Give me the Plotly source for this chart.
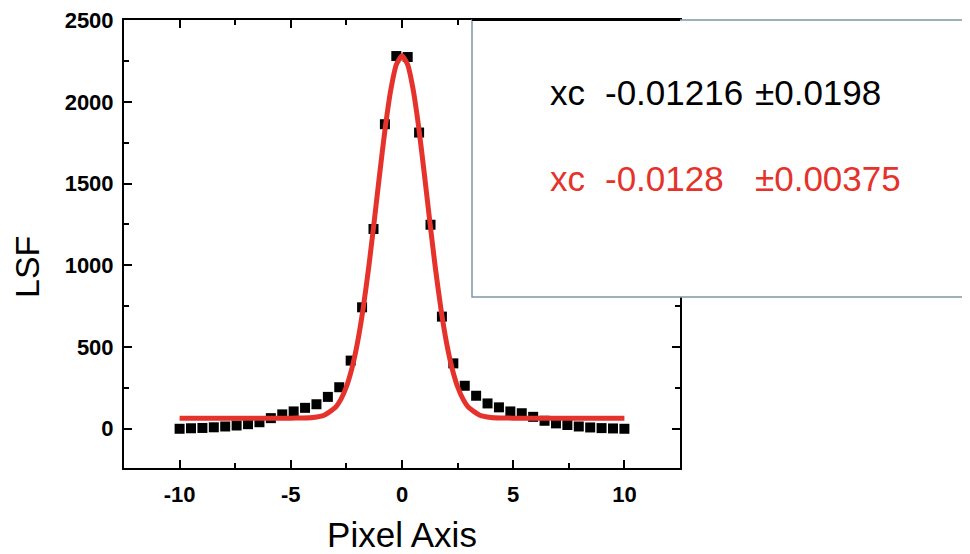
import plotly.graph_objects as go

# Measured LSF data (black squares)
pixel_x = [-10.0, -9.487, -8.974, -8.462, -7.949, -7.436, -6.923, -6.410, -5.897, -5.385,
           -4.872, -4.359, -3.846, -3.333, -2.821, -2.308, -1.795, -1.282, -0.769, -0.256,
           0.256, 0.769, 1.282, 1.795, 2.308, 2.821, 3.333, 3.846, 4.359, 4.872,
           5.385, 5.897, 6.410, 6.923, 7.436, 7.949, 8.462, 8.974, 9.487, 10.0]
lsf_values = [0, 3, 5, 9, 14, 20, 28, 40, 65, 88,
              106, 128, 150, 195, 254, 417, 743, 1222, 1863, 2280,
              2274, 1812, 1248, 686, 400, 263, 202, 155, 131, 106,
              95, 73, 49, 33, 23, 14, 8, 4, 2, 0]

# Fitted curve (red)
fit_x = [-10, -6, -5, -4.5, -4, -3.5, -3, -2.75, -2.5, -2.25, -2, -1.75, -1.5, -1.25, -1,
         -0.75, -0.5, -0.25, 0, 0.25, 0.5, 0.75, 1, 1.25, 1.5, 1.75, 2, 2.25, 2.5, 2.75,
         3, 3.5, 4, 4.5, 5, 6, 10]
fit_y = [65, 65, 65, 66, 69, 83, 130, 180, 257, 371, 528, 734, 984, 1268, 1564,
         1845, 2076, 2229, 2282, 2229, 2076, 1845, 1564, 1268, 984, 734, 528, 371, 257, 180,
         130, 83, 69, 66, 65, 65, 65]

x_ticks = [-10, -5, 0, 5, 10]
x_ticktext = ["-10", "-5", "0", "5", "10"]
y_ticks = [0, 500, 1000, 1500, 2000, 2500]
y_ticktext = ["0", "500", "1000", "1500", "2000", "2500"]

x_title = "Pixel Axis"
y_title = "LSF"

row1 = ["xc", "-0.01216", "±0.0198"]
row2 = ["xc", "-0.0128", "±0.00375"]

FONT = "Liberation Sans, Arial, sans-serif"
RED = "#e5322a"

fig = go.Figure()
fig.add_trace(go.Scatter(x=pixel_x, y=lsf_values, mode="markers",
                         marker=dict(symbol="square", size=10, color="black"),
                         showlegend=False))
fig.add_trace(go.Scatter(x=fit_x, y=fit_y, mode="lines",
                         line=dict(color=RED, width=5, shape="spline", smoothing=0.6),
                         showlegend=False))

# page body has an 8px offset; plan in window pixels
OFF = 8
PL, PR, PT, PB = 124, 680, 20, 468   # plot area in window pixels
W, H = 970 - OFF, 554 - OFF
L, T = PL - OFF, PT - OFF
R, B = 970 - PR, 554 - PB
pw, ph = PR - PL, PB - PT

def px(x):
    return (x - PL) / pw

def py(y):
    return (PB - y) / ph

axis_common = dict(showline=True, linecolor="black", linewidth=2, mirror="ticks",
                   ticks="inside", ticklen=8, tickwidth=2, tickcolor="black",
                   showgrid=False, zeroline=False, automargin=False,
                   tickfont=dict(family=FONT, size=22, color="black", weight="bold"))

fig.update_layout(
    width=W, height=H,
    margin=dict(l=L, r=R, t=T, b=B, autoexpand=False),
    paper_bgcolor="white", plot_bgcolor="white",
    xaxis=dict(range=[-12.5, 12.5], tickvals=x_ticks, ticktext=x_ticktext,
               minor=dict(dtick=2.5, ticks="inside", ticklen=5, tickwidth=2, tickcolor="black"),
               title=dict(text=x_title, font=dict(family=FONT, size=35, color="black"),
                          standoff=19),
               ticklabelstandoff=6,
               **axis_common),
    yaxis=dict(range=[-240, 2500.5], tickvals=y_ticks, ticktext=y_ticktext,
               minor=dict(dtick=250, ticks="inside", ticklen=5, tickwidth=2, tickcolor="black"),
               ticklabelstandoff=4, ticklabeloverflow="allow",
               **axis_common),
)

# y-axis title as a rotated annotation
fig.add_annotation(text=y_title, xref="paper", yref="paper",
                   x=px(27), y=py(267), xanchor="center", yanchor="middle",
                   textangle=-90, showarrow=False,
                   font=dict(family=FONT, size=34, color="black"))

# Parameter box
fig.add_shape(type="rect", xref="paper", yref="paper",
              x0=px(472), x1=px(990), y0=py(297), y1=py(PT),
              line=dict(color="#7f97a4", width=1.5), fillcolor="white", layer="above")
fig.add_shape(type="line", xref="paper", yref="paper",
              x0=px(472), x1=1, y0=1, y1=1,
              line=dict(color="black", width=2), layer="above")

col_x = [550, 605, 755]
for row, yy, col in [(row1, 93, "black"), (row2, 180, RED)]:
    for txt, xx in zip(row, col_x):
        fig.add_annotation(text=txt, xref="paper", yref="paper",
                           x=px(xx), y=py(yy), xanchor="left", yanchor="middle",
                           showarrow=False, xshift=-2, yshift=1,
                           font=dict(family=FONT, size=35, color=col))

fig.write_html("out.html")
